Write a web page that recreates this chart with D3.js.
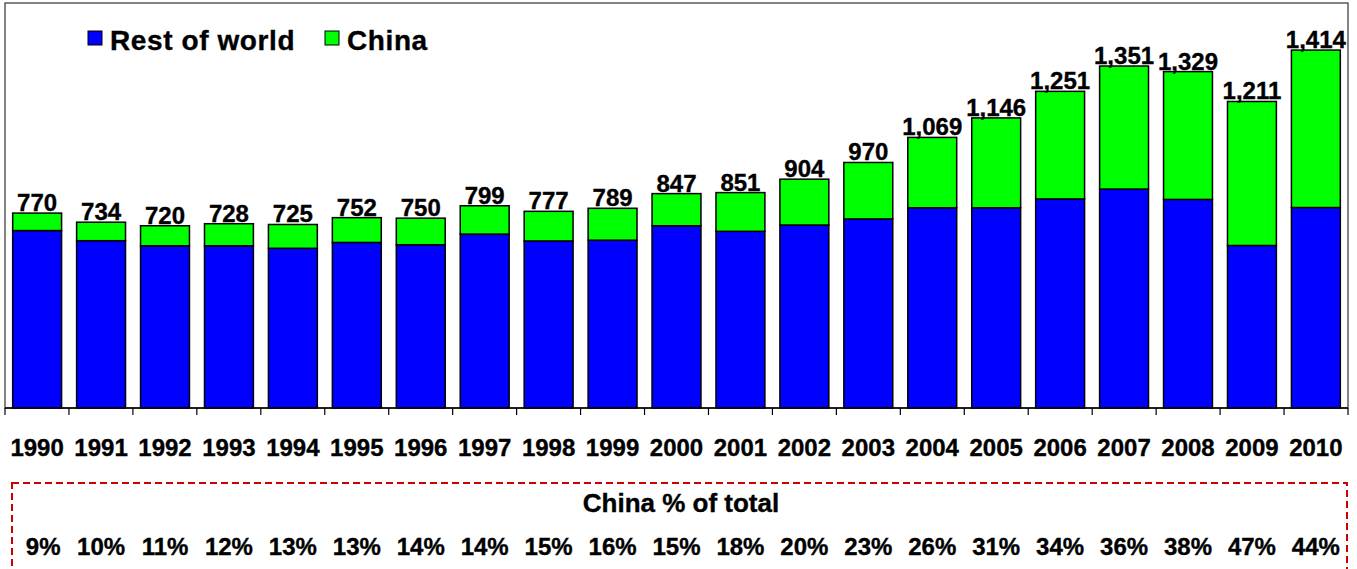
<!DOCTYPE html>
<html><head><meta charset="utf-8">
<script src="https://cdn.jsdelivr.net/npm/d3@7"></script>
<style>body{margin:0;background:#fff}text{font-family:"Liberation Sans",Arial,sans-serif;font-weight:bold;fill:#000;stroke:#000;stroke-width:0.35px}</style>
</head><body><svg id="c" width="1357" height="569"></svg>
<script>
const years = ["1990","1991","1992","1993","1994","1995","1996","1997","1998","1999","2000","2001","2002","2003","2004","2005","2006","2007","2008","2009","2010"];
const totals = [770,734,720,728,725,752,750,799,777,789,847,851,904,970,1069,1146,1251,1351,1329,1211,1414];
const china = [69,73,79,87,94,98,105,112,117,126,127,153,181,223,278,355,425,486,505,569,622];
const restOfWorld = [701,661,641,641,631,654,645,687,660,663,720,698,723,747,791,791,826,865,824,642,792];
const chinaPct = ["9%","10%","11%","12%","13%","13%","14%","14%","15%","16%","15%","18%","20%","23%","26%","31%","34%","36%","38%","47%","44%"];
const seriesNames = ["Rest of world","China"];
const colors = ["#0000ff","#00ff00"];

const svg = d3.select("#c");
const pL = 5, pR = 1348, pT = 3, pB = 408;
const x = d3.scaleBand().domain(years).range([pL, pR]).paddingInner(0.235).paddingOuter(0.12);
const y = d3.scaleLinear().domain([0, 1600]).range([pB, pT]);

// plot frame
svg.append("rect").attr("x", pL).attr("y", pT).attr("width", pR-pL).attr("height", pB-pT)
  .attr("fill","none").attr("stroke","#333").attr("stroke-width",1.2);

const data = years.map((yr,i)=>({year:yr, "Rest of world":restOfWorld[i], "China":china[i], total:totals[i]}));
const stack = d3.stack().keys(seriesNames)(data);
svg.append("g").selectAll("g").data(stack).join("g").attr("fill",(d,i)=>colors[i])
  .selectAll("rect").data(d=>d).join("rect")
  .attr("x", d=>x(d.data.year)).attr("width", x.bandwidth())
  .attr("y", d=>y(d[1])).attr("height", d=>y(d[0])-y(d[1]))
  .attr("stroke","#000").attr("stroke-width",1.5);

// axis
const bounds = d3.range(years.length+1).map(i=>pL + i*(pR-pL)/years.length);
svg.append("line").attr("x1",pL).attr("x2",pR).attr("y1",pB).attr("y2",pB).attr("stroke","#000").attr("stroke-width",1.5);
svg.append("g").selectAll("line").data(bounds).join("line")
  .attr("x1",d=>d).attr("x2",d=>d).attr("y1",pB).attr("y2",pB+7).attr("stroke","#000").attr("stroke-width",1.2);

svg.append("g").selectAll("text").data(years).join("text")
  .attr("x", d=>x(d)+x.bandwidth()/2).attr("y", 456).attr("text-anchor","middle")
  .attr("font-size", 24).text(d=>d);

// value labels
svg.append("g").selectAll("text").data(data).join("text")
  .attr("x", d=>x(d.year)+x.bandwidth()/2).attr("y", d=>y(d.total)-2).attr("text-anchor","middle")
  .attr("font-size", 24).text(d=>d3.format(",")(d.total));

// legend
const leg = svg.append("g");
[[88,110],[325,347]].forEach((p,i)=>{
  leg.append("rect").attr("x",p[0]).attr("y",31).attr("width",14).attr("height",14).attr("fill",colors[i]).attr("stroke","#000").attr("stroke-width",1);
  leg.append("text").attr("x",p[1]).attr("y",50).attr("font-size",28).attr("letter-spacing","0.6").text(seriesNames[i]);
});

// china % box
svg.append("rect").attr("x",12).attr("y",483).attr("width",1335).attr("height",120)
  .attr("fill","none").attr("stroke","#cc0000").attr("stroke-width",2).attr("stroke-dasharray","7,4");
svg.append("text").attr("x",681).attr("y",512).attr("text-anchor","middle").attr("font-size",26).text("China % of total");
svg.append("g").selectAll("text").data(chinaPct).join("text")
  .attr("x",(d,i)=>x(years[i])+x.bandwidth()/2+ (i===0?6:0)).attr("y",555).attr("text-anchor","middle")
  .attr("font-size",24).text(d=>d);
</script></body></html>
